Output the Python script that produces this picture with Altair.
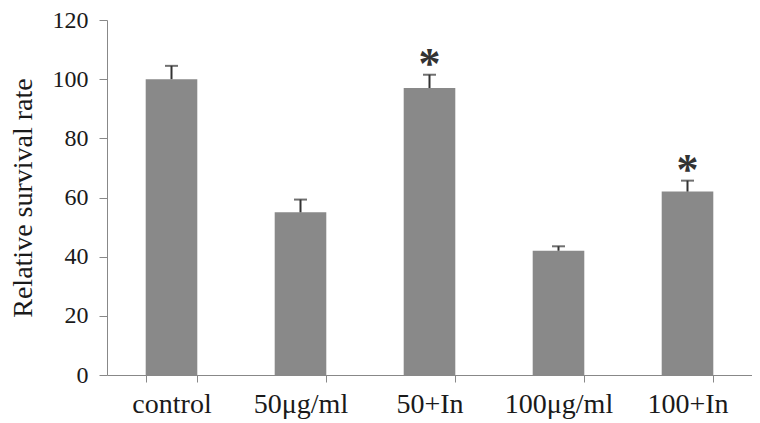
import altair as alt
import pandas as pd

categories = ["control", "50μg/ml", "50+In", "100μg/ml", "100+In"]
means = [100, 55, 97, 42, 62]
errors = [4.5, 4.3, 4.5, 1.5, 3.7]
marks = ["", "", "*", "", "*"]

df = pd.DataFrame({
    "cat": categories,
    "mean": means,
    "err": errors,
    "mark": marks,
})
df["top"] = df["mean"] + df["err"]

FONT = "Liberation Serif"
TXT = "#1a1a1a"

x = alt.X("cat:N", sort=categories, title=None,
          scale=alt.Scale(paddingInner=0.6, paddingOuter=0.3),
          axis=alt.Axis(labelAngle=0, labelFontSize=28, labelFont=FONT, labelColor=TXT,
                        tickBand="extent", tickSize=7, tickColor="#888", domainColor="#888",
                        labelPadding=8))
y = alt.Y("mean:Q", title="Relative survival rate",
          scale=alt.Scale(domain=[0, 120], nice=False),
          axis=alt.Axis(values=[0, 20, 40, 60, 80, 100, 120], grid=False,
                        labelFontSize=24, labelFont=FONT, labelColor=TXT,
                        titleFont=FONT, titleFontSize=28, titleFontWeight="normal",
                        titleColor=TXT, tickSize=8, tickColor="#888", domainColor="#888",
                        labelPadding=11, titlePadding=15))

base = alt.Chart(df)
bars = base.mark_bar(color="#898989").encode(x=x, y=y)
errs = base.mark_rule(color="#333", strokeWidth=2).encode(
    x=alt.X("cat:N", sort=categories), y="mean:Q", y2="top:Q")
caps = base.mark_tick(color="#333", thickness=2, size=13, orient="horizontal").encode(
    x=alt.X("cat:N", sort=categories), y="top:Q")
stars = base.mark_text(font=FONT, fontSize=44, fontWeight="bold", color="#333",
                       baseline="alphabetic", dy=3).encode(
    x=alt.X("cat:N", sort=categories), y="top:Q", text="mark:N")

chart = (bars + errs + caps + stars).properties(
    width=645, height=355,
    autosize=alt.AutoSizeParams(type="none"),
    padding={"left": 99, "top": 12, "right": 0, "bottom": 48},
    background="white",
).configure_view(stroke=None)

chart.save("out.html", embed_options={"renderer": "svg", "actions": False})
